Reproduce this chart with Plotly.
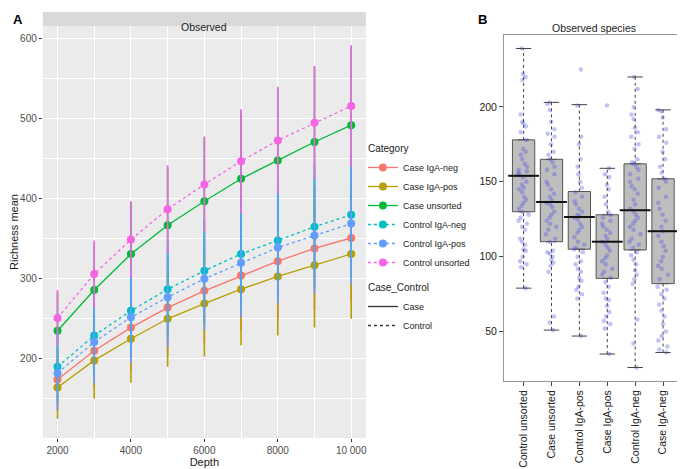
import plotly.graph_objects as go

# ---- panel A: rarefaction means +/- sd
depth = [2000, 3000, 4000, 5000, 6000, 7000, 8000, 9000, 10000]
categories = ["Case IgA-neg", "Case IgA-pos", "Case unsorted",
              "Control IgA-neg", "Control IgA-pos", "Control unsorted"]
case_control = ["Case", "Case", "Case", "Control", "Control", "Control"]
colors = ["#F8766D", "#B79F00", "#00BA38", "#00BFC4", "#619CFF", "#F564E3"]

mean_case_iga_neg = [173, 209, 238, 263, 284, 303, 321, 337, 350]
mean_case_iga_pos = [163, 197, 224, 249, 268, 286, 302, 316, 330]
mean_case_unsorted = [234, 285, 330, 366, 396, 424, 447, 470, 491]
mean_ctrl_iga_neg = [189, 228, 259, 286, 309, 330, 347, 364, 379]
mean_ctrl_iga_pos = [181, 220, 251, 276, 299, 319, 338, 353, 368]
mean_ctrl_unsorted = [250, 305, 348, 386, 417, 446, 472, 494, 515]

sd_case_iga_neg = [40, 48, 54, 60, 65, 69, 73, 77, 80]
sd_case_iga_pos = [39, 48, 55, 60, 66, 70, 74, 78, 81]
sd_case_unsorted = [48, 58, 65, 72, 80, 85, 90, 94, 98]
sd_ctrl_iga_neg = [45, 52, 58, 62, 66, 70, 73, 76, 78]
sd_ctrl_iga_pos = [46, 52, 57, 62, 64, 68, 70, 73, 76]
sd_ctrl_unsorted = [35, 42, 48, 55, 60, 65, 67, 71, 76]

means = [mean_case_iga_neg, mean_case_iga_pos, mean_case_unsorted,
         mean_ctrl_iga_neg, mean_ctrl_iga_pos, mean_ctrl_unsorted]
sds = [sd_case_iga_neg, sd_case_iga_pos, sd_case_unsorted,
       sd_ctrl_iga_neg, sd_ctrl_iga_pos, sd_ctrl_unsorted]

# ---- panel B: observed species boxplot
groups = ["Control unsorted", "Case unsorted", "Control IgA-pos",
          "Case IgA-pos", "Control IgA-neg", "Case IgA-neg"]
q1 = [130, 110, 105, 85.5, 104.5, 82]
median = [154, 136.5, 126.5, 110, 131, 117]
q3 = [178, 165, 143.5, 128, 162, 152]
whisk_low = [79, 51, 47, 35, 26, 36]
whisk_high = [239, 203, 201.5, 159, 220, 198]

obs_ctrl_unsorted = [239, 222, 220, 218, 195, 190, 189, 187, 183, 178, 172, 170,
                     168, 165, 162, 160, 158, 157, 156, 155, 153, 150, 148, 146,
                     145, 143, 140, 138, 136, 134, 132, 130, 128, 126, 124, 122,
                     120, 118, 112, 110, 108, 105, 104, 100, 97, 95, 93, 79]
obs_case_unsorted = [203, 202, 198, 190, 185, 182, 180, 175, 170, 168, 165, 163,
                     160, 158, 155, 150, 148, 145, 142, 140, 138, 136, 135, 133,
                     130, 128, 126, 124, 122, 120, 118, 115, 112, 110, 104, 103,
                     102, 100, 98, 96, 94, 90, 60, 56, 51]
obs_ctrl_iga_pos = [225, 201, 180, 175, 165, 160, 155, 150, 146, 143, 140, 137,
                    135, 132, 130, 128, 127, 126, 125, 122, 120, 118, 116, 113,
                    110, 108, 106, 105, 103, 100, 97, 95, 92, 90, 86, 84, 80,
                    78, 75, 72, 47]
obs_case_iga_pos = [201, 159, 155, 153, 148, 145, 140, 135, 130, 128, 126, 124,
                    122, 120, 118, 116, 114, 112, 110, 108, 106, 104, 101, 99,
                    97, 95, 92, 90, 88, 86, 83, 80, 76, 72, 71, 67, 63, 60, 57,
                    55, 52, 35]
obs_ctrl_iga_neg = [220, 212, 200, 195, 192, 186, 183, 180, 175, 172, 165, 163,
                    162, 160, 158, 155, 152, 150, 147, 145, 142, 138, 135, 132,
                    130, 128, 126, 124, 122, 120, 118, 115, 112, 110, 108, 106,
                    103, 101, 98, 95, 91, 88, 85, 82, 58, 42, 26]
obs_case_iga_neg = [198, 197, 193, 185, 180, 176, 170, 165, 160, 156, 152, 150,
                    146, 140, 136, 132, 128, 124, 120, 117, 114, 110, 107, 104,
                    100, 97, 94, 92, 88, 85, 80, 78, 75, 72, 68, 64, 60, 55, 50,
                    47, 44, 40, 38, 36]
observed = [obs_ctrl_unsorted, obs_case_unsorted, obs_ctrl_iga_pos,
            obs_case_iga_pos, obs_ctrl_iga_neg, obs_case_iga_neg]

FONT = "Liberation Sans"
# the page body has an 8px margin, so the figure is a bit smaller than the window
OFF = 8
W, H = 685 - OFF, 469 - OFF


def px(x):
    return (x - OFF) / W


def py(y):
    return 1 - (y - OFF) / H


fig = go.Figure()

for name, cc, col, m, s in zip(categories, case_control, colors, means, sds):
    fig.add_trace(go.Scatter(
        x=depth, y=m, name=name, mode="lines+markers",
        line=dict(color=col, width=1.3, dash="solid" if cc == "Case" else "dot"),
        marker=dict(color=col, size=8),
        error_y=dict(type="data", array=s, visible=True, width=0,
                     thickness=1.6, color=col),
        legendgroup="cat", legendgrouptitle_text="Category",
        xaxis="x", yaxis="y"))

for cc, dash in [("Case", "solid"), ("Control", "dot")]:
    fig.add_trace(go.Scatter(
        x=[None], y=[None], name=cc, mode="lines",
        line=dict(color="#333333", width=1.3, dash=dash),
        legendgroup="cc", legendgrouptitle_text="Case_Control",
        xaxis="x", yaxis="y"))

# boxes (no whiskers, drawn separately dashed)
fig.add_trace(go.Box(
    x=groups, q1=q1, median=median, q3=q3, lowerfence=q1, upperfence=q3,
    fillcolor="#BEBEBE", line=dict(color="#555555", width=1), width=0.8,
    showlegend=False, xaxis="x2", yaxis="y2"))

wx, wy = [], []
for g, a, b, c, d in zip(groups, whisk_low, q1, q3, whisk_high):
    wx += [g, g, None, g, g, None]
    wy += [a, b, None, c, d, None]
fig.add_trace(go.Scatter(
    x=wx, y=wy, mode="lines", line=dict(color="#444444", width=1, dash="dot"),
    showlegend=False, xaxis="x2", yaxis="y2"))
fig.add_trace(go.Scatter(
    x=groups + groups, y=whisk_low + whisk_high, mode="markers",
    marker=dict(symbol="line-ew", size=11, line=dict(color="#444444", width=1)),
    showlegend=False, xaxis="x2", yaxis="y2"))
fig.add_trace(go.Scatter(
    x=groups, y=median, mode="markers",
    marker=dict(symbol="line-ew", size=22, line=dict(color="#111111", width=2)),
    showlegend=False, xaxis="x2", yaxis="y2"))

for g, vals in zip(groups, observed):
    fig.add_trace(go.Box(
        x=[g] * len(vals), y=vals, boxpoints="all", jitter=0.55, pointpos=0,
        fillcolor="rgba(0,0,0,0)", line=dict(width=0), width=0.8,
        marker=dict(color="rgba(80,80,230,0.35)", size=4.5),
        showlegend=False, xaxis="x2", yaxis="y2"))

tickfont = dict(family=FONT, size=10, color="#4D4D4D")

fig.update_layout(
    width=W, height=H, margin=dict(l=0, r=0, t=0, b=0),
    paper_bgcolor="white", plot_bgcolor="white",
    font=dict(family=FONT, size=10, color="#222222"),
    boxmode="overlay",
    xaxis=dict(domain=[px(40), px(365)], range=[1600, 10400],
               tickvals=[2000, 4000, 6000, 8000, 10000],
               ticktext=["2000", "4000", "6000", "8000", "10 000"],
               ticks="outside", ticklen=3, tickcolor="#333333",
               tickfont=tickfont, showgrid=True, gridcolor="white",
               gridwidth=1.1, zeroline=False,
               minor=dict(dtick=1000, showgrid=True, gridcolor="white",
                          gridwidth=0.5),
               title=dict(text="Depth", font=dict(family=FONT, size=11),
                          standoff=0)),
    yaxis=dict(domain=[py(438), py(26)], range=[100, 615],
               tickvals=[200, 300, 400, 500, 600],
               ticks="outside", ticklen=3, tickcolor="#333333",
               tickfont=tickfont, showgrid=True, gridcolor="white",
               gridwidth=1.1, zeroline=False,
               minor=dict(dtick=50, showgrid=True, gridcolor="white",
                          gridwidth=0.5),
               title=dict(text="Richness mean", font=dict(family=FONT, size=11),
                          standoff=4)),
    xaxis2=dict(domain=[px(504), px(683)], range=[-0.7, 5.68],
                anchor="y2", ticks="outside", ticklen=4, tickcolor="#444444",
                tickangle=-90, tickfont=dict(family=FONT, size=10.5, color="#222222"),
                showline=True, linecolor="#999999", mirror=True,
                showgrid=False, zeroline=False),
    yaxis2=dict(domain=[py(381), py(35)], range=[17, 248],
                anchor="x2", tickvals=[50, 100, 150, 200],
                ticks="outside", ticklen=4, tickcolor="#444444",
                tickfont=dict(family=FONT, size=10.5, color="#222222"),
                showline=True, linecolor="#999999", mirror=True,
                showgrid=False, zeroline=False),
    legend=dict(x=px(362), y=py(134), xanchor="left", yanchor="top",
                font=dict(family=FONT, size=9, color="#222222"),
                grouptitlefont=dict(family=FONT, size=10, color="#222222"),
                tracegroupgap=6, itemwidth=30, bgcolor="rgba(0,0,0,0)"),
    shapes=[
        dict(type="rect", xref="x domain", yref="paper", x0=0, x1=1,
             y0=py(26), y1=py(12), fillcolor="#D9D9D9", line=dict(width=0),
             layer="below"),
        dict(type="rect", xref="x domain", yref="y domain", x0=0, x1=1,
             y0=0, y1=1, fillcolor="#EBEBEB", line=dict(width=0),
             layer="below"),
    ],
    annotations=[
        dict(text="Observed", xref="x domain", yref="paper", x=0.5,
             y=py(19), xanchor="center", showarrow=False,
             font=dict(family=FONT, size=10.5, color="#1A1A1A")),
        dict(text="<b>A</b>", xref="paper", yref="paper", x=0, y=py(10),
             xanchor="left", showarrow=False,
             font=dict(family=FONT, size=13, color="black")),
        dict(text="<b>B</b>", xref="paper", yref="paper", x=px(476), y=py(10),
             xanchor="left", showarrow=False,
             font=dict(family=FONT, size=13, color="black")),
        dict(text="Observed species", xref="paper", yref="paper",
             x=px(594), y=py(20), xanchor="center", showarrow=False,
             font=dict(family=FONT, size=10.5, color="#222222")),
    ],
)

fig.write_html("out.html")
